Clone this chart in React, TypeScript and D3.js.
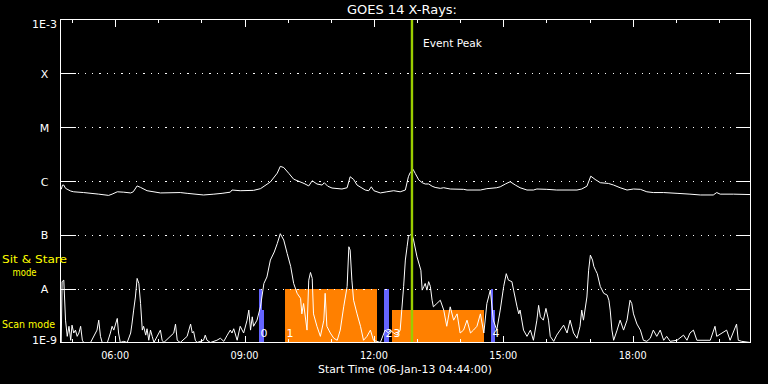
import React from "react";
import * as d3 from "d3";

// ---- data (time in decimal hours of 06-Jan-2013, flux in W/m^2) ----
const startHour = 4 + 44 / 60;
const endHour = startHour + 16;
const eventPeakHour = 12 + 53 / 60;

const yTickValues = [1e-3, 1e-4, 1e-5, 1e-6, 1e-7, 1e-8, 1e-9];
const yTickLabels = ["1E-3", "X", "M", "C", "B", "A", "1E-9"];
const xMajorHours = [6, 9, 12, 15, 18];
const xMajorLabels = ["06:00", "09:00", "12:00", "15:00", "18:00"];
const xMinorHours = [5, 6, 7, 8, 9, 10, 11, 12, 13, 14, 15, 16, 17, 18, 19, 20];

const longChannel: [number, number][] = [
  [4.75, 7.0e-7], [4.78, 8.4e-7], [4.81, 8.4e-7], [4.85, 7.3e-7], [4.97, 6.5e-7], [5.04, 6.3e-7],
  [5.27, 6.1e-7], [5.62, 5.7e-7], [5.85, 5.4e-7], [5.93, 5.7e-7], [6.05, 6.3e-7], [6.2, 6.2e-7],
  [6.36, 6.0e-7], [6.42, 6.3e-7], [6.51, 8.1e-7], [6.59, 7.6e-7], [6.74, 6.6e-7], [7.05, 6.0e-7],
  [7.51, 6.1e-7], [7.67, 5.9e-7], [8.05, 5.5e-7], [8.29, 5.7e-7], [8.48, 5.9e-7], [8.67, 6.2e-7],
  [8.71, 6.8e-7], [8.9, 6.6e-7], [9.21, 6.7e-7], [9.37, 7.2e-7], [9.6, 9.6e-7], [9.76, 1.4e-6],
  [9.83, 1.87e-6], [9.91, 1.78e-6], [10.03, 1.38e-6], [10.14, 1.08e-6], [10.38, 9.0e-7], [10.49, 8.1e-7],
  [10.57, 1.01e-6], [10.68, 8.8e-7], [10.8, 8.4e-7], [10.85, 9.3e-7], [10.93, 8.0e-7], [11.03, 7.4e-7],
  [11.26, 7.1e-7], [11.38, 7.5e-7], [11.45, 1.2e-6], [11.53, 1.07e-6], [11.61, 8.4e-7], [11.8, 6.8e-7],
  [11.88, 6.6e-7], [11.94, 7.8e-7], [12.0, 6.6e-7], [12.15, 6.0e-7], [12.3, 6.3e-7], [12.46, 6.6e-7],
  [12.61, 6.3e-7], [12.73, 6.8e-7], [12.8, 1.2e-6], [12.84, 1.42e-6], [12.91, 1.64e-6], [12.96, 1.38e-6],
  [13.04, 1.05e-6], [13.12, 9.3e-7], [13.19, 8.8e-7], [13.27, 8.8e-7], [13.35, 8.0e-7], [13.42, 7.6e-7],
  [13.54, 7.3e-7], [13.62, 7.5e-7], [13.77, 7.1e-7], [14.08, 7.0e-7], [14.16, 6.8e-7], [14.47, 6.8e-7],
  [14.62, 7.2e-7], [14.85, 7.5e-7], [14.93, 7.8e-7], [15.05, 8.8e-7], [15.16, 9.7e-7], [15.28, 8.4e-7],
  [15.39, 7.5e-7], [15.55, 6.8e-7], [15.7, 6.8e-7], [15.78, 7.1e-7], [16.01, 7.0e-7], [16.24, 6.8e-7],
  [16.71, 6.8e-7], [16.82, 7.1e-7], [16.94, 8.0e-7], [17.03, 1.23e-6], [17.13, 1.07e-6], [17.25, 9.3e-7],
  [17.44, 9.0e-7], [17.56, 8.4e-7], [17.71, 7.5e-7], [17.87, 6.8e-7], [18.02, 7.1e-7], [18.18, 7.0e-7],
  [18.33, 6.3e-7], [18.48, 6.1e-7], [18.72, 6.1e-7], [19.03, 5.9e-7], [19.33, 5.7e-7], [19.57, 5.5e-7],
  [19.87, 5.5e-7], [19.95, 6.1e-7], [20.03, 5.7e-7], [20.34, 5.7e-7], [20.73, 5.6e-7],
];

const shortChannel: [number, number][] = [
  [4.75, 1e-9], [4.77, 1.35e-8], [4.81, 1.44e-8], [4.85, 2.6e-9], [4.89, 1.3e-9], [4.93, 2.0e-9], [4.97, 1.1e-9],
  [5.0, 2.1e-9], [5.04, 1.5e-9], [5.08, 1.7e-9], [5.12, 1.3e-9], [5.16, 1.5e-9], [5.2, 2.0e-9], [5.24, 1.1e-9],
  [5.27, 1e-9], [5.43, 1e-9], [5.58, 1.7e-9], [5.62, 2.6e-9], [5.66, 1.3e-9], [5.7, 1e-9], [5.82, 1e-9],
  [5.89, 1.5e-9], [5.93, 2.0e-9], [5.97, 1.7e-9], [6.01, 2.2e-9], [6.05, 2.8e-9], [6.08, 1.5e-9], [6.12, 1e-9],
  [6.2, 1.05e-9], [6.28, 1e-9], [6.36, 1.5e-9], [6.39, 2.2e-9], [6.43, 4.0e-9], [6.47, 7.0e-9], [6.51, 1.55e-8],
  [6.55, 1.25e-8], [6.59, 5.3e-9], [6.63, 1.7e-9], [6.66, 2.0e-9], [6.71, 1.37e-9], [6.74, 1.8e-9], [6.78, 1.1e-9],
  [6.82, 1.7e-9], [6.86, 1.3e-9], [6.9, 1e-9], [7.05, 1.7e-9], [7.09, 1.1e-9], [7.13, 1e-9], [7.36, 1.5e-9],
  [7.4, 2.2e-9], [7.44, 1.1e-9], [7.51, 1e-9], [7.67, 1.3e-9], [7.71, 1.7e-9], [7.75, 2.2e-9], [7.79, 1.5e-9],
  [7.82, 1.6e-9], [7.86, 1.1e-9], [7.9, 1e-9], [8.05, 1.1e-9], [8.09, 1.37e-9], [8.13, 1.1e-9], [8.21, 1e-9],
  [8.36, 1.1e-9], [8.44, 1.2e-9], [8.52, 1.05e-9], [8.6, 1.37e-9], [8.67, 1.7e-9], [8.71, 1.5e-9], [8.75, 1.8e-9],
  [8.83, 1.1e-9], [8.9, 2.0e-9], [8.98, 1.5e-9], [9.06, 2.6e-9], [9.1, 4.0e-9], [9.14, 1.7e-9], [9.18, 3.0e-9],
  [9.21, 2.0e-9], [9.29, 2.6e-9], [9.37, 4.6e-9], [9.45, 1.25e-8], [9.52, 1.65e-8], [9.6, 3.4e-8], [9.69, 4.8e-8],
  [9.76, 6.9e-8], [9.83, 1.05e-7], [9.91, 8.0e-8], [9.99, 4.5e-8], [10.07, 2.6e-8], [10.14, 1.25e-8], [10.22, 8.2e-9],
  [10.3, 6.6e-9], [10.33, 3.4e-9], [10.37, 5.3e-9], [10.45, 1.7e-9], [10.49, 1.44e-8], [10.53, 2.0e-8], [10.57, 1.55e-8],
  [10.6, 3.4e-9], [10.68, 2.0e-9], [10.76, 1.3e-9], [10.84, 2.6e-9], [10.87, 8.2e-9], [10.91, 2.0e-9], [10.99, 1.5e-9],
  [11.07, 1.2e-9], [11.15, 1.1e-9], [11.22, 1.7e-9], [11.3, 4.6e-9], [11.38, 1.1e-8], [11.42, 6.0e-8], [11.45, 5.2e-8],
  [11.49, 1.44e-8], [11.53, 6.1e-9], [11.61, 3.4e-9], [11.69, 2.0e-9], [11.76, 1.1e-9], [11.84, 1.3e-9], [11.92, 1.7e-9],
  [11.99, 1.1e-9], [12.07, 1.05e-9], [12.15, 1e-9], [12.26, 1.7e-9], [12.34, 1.5e-9], [12.38, 1.7e-9], [12.46, 1.5e-9],
  [12.54, 1.37e-9], [12.61, 1.7e-9], [12.69, 1.1e-8], [12.73, 3.4e-8], [12.77, 6.0e-8], [12.8, 9.2e-8], [12.84, 9.9e-8],
  [12.88, 1.05e-7], [12.92, 8.0e-8], [13.0, 3.9e-8], [13.09, 2.2e-8], [13.12, 9.4e-9], [13.16, 1.1e-8], [13.19, 1.25e-8],
  [13.23, 9.4e-9], [13.27, 1.35e-8], [13.31, 1.1e-8], [13.35, 6.1e-9], [13.38, 4.6e-9], [13.46, 5.3e-9], [13.54, 6.1e-9],
  [13.62, 4.0e-9], [13.69, 2.0e-9], [13.77, 4.6e-9], [13.85, 2.6e-9], [13.93, 3.4e-9], [14.0, 1.5e-9], [14.08, 1.7e-9],
  [14.16, 2.6e-9], [14.24, 1.5e-9], [14.31, 1.7e-9], [14.39, 2.0e-9], [14.47, 3.4e-9], [14.55, 1.5e-9], [14.62, 5.3e-9],
  [14.66, 7.0e-9], [14.7, 9.4e-9], [14.77, 2.6e-9], [14.85, 1.7e-9], [14.93, 4.0e-9], [15.01, 1.1e-8], [15.07, 1.9e-8],
  [15.12, 1.44e-8], [15.2, 1.35e-8], [15.24, 9.4e-9], [15.32, 4.6e-9], [15.36, 3.4e-9], [15.39, 4.0e-9], [15.47, 1.7e-9],
  [15.55, 1.3e-9], [15.63, 1.7e-9], [15.7, 1.1e-9], [15.78, 2.6e-9], [15.82, 4.9e-9], [15.86, 3.0e-9], [15.93, 2.6e-9],
  [15.99, 4.3e-9], [16.05, 2.6e-9], [16.09, 1.3e-9], [16.17, 1.05e-9], [16.24, 1.37e-9], [16.32, 1.7e-9], [16.4, 2.1e-9],
  [16.48, 1.5e-9], [16.55, 2.6e-9], [16.63, 1.5e-9], [16.71, 1.2e-9], [16.78, 2.0e-9], [16.82, 4.0e-9], [16.86, 2.6e-9],
  [16.94, 7.0e-9], [16.98, 2.2e-8], [17.02, 4.2e-8], [17.07, 3.4e-8], [17.1, 2.6e-8], [17.14, 2.2e-8], [17.18, 1.9e-8],
  [17.25, 1.1e-8], [17.33, 8.2e-9], [17.41, 7.6e-9], [17.45, 6.1e-9], [17.48, 4.0e-9], [17.52, 1.7e-9], [17.56, 1.1e-9],
  [17.64, 1.7e-9], [17.71, 2.6e-9], [17.79, 1.7e-9], [17.87, 2.6e-9], [17.94, 6.1e-9], [17.98, 5.3e-9], [18.02, 3.4e-9],
  [18.1, 2.2e-9], [18.18, 1.7e-9], [18.25, 1.1e-9], [18.33, 1.05e-9], [18.41, 1.2e-9], [18.48, 1.7e-9], [18.56, 1.3e-9],
  [18.64, 1.7e-9], [18.72, 1.1e-9], [18.79, 1.3e-9], [18.87, 1.05e-9], [19.03, 1.1e-9], [19.18, 1.37e-9], [19.26, 1.1e-9],
  [19.33, 1.5e-9], [19.41, 1.7e-9], [19.49, 1.1e-9], [19.8, 1.1e-9], [19.91, 2.0e-9], [19.95, 1.3e-9], [20.18, 1.7e-9],
  [20.26, 1.1e-9], [20.41, 2.2e-9], [20.45, 1.1e-9], [20.53, 1.05e-9], [20.73, 1e-9],
];

// observing blocks: id, start/end hour, mode and instrument type
const blockIds = ["0", "0", "1", "2", "3", "4", "4"];
const blockStart = [9.336, 9.336, 9.939, 12.235, 12.42, 14.716, 14.716];
const blockEnd = [9.406, 9.452, 12.072, 12.351, 14.553, 14.763, 14.809];
const blockMode = ["stare", "scan", "stare", "stare", "scan", "stare", "scan"];
const blockType = ["blue", "blue", "orange", "blue", "orange", "blue", "blue"];
const modeTop: Record<string, number> = { stare: 1e-8, scan: 4e-9 };

const W = 768;
const H = 384;
const left = 60.5;
const right = 750.5;
const top = 19.5;
const bottom = 342.5;
const FONT = "'DejaVu Sans', sans-serif";
const typeColor: Record<string, string> = { blue: "#6464ff", orange: "#ff8000" };

export default function App() {
  const x = d3.scaleLinear().domain([startHour, endHour]).range([left, right]);
  const y = d3.scaleLog().domain([1e-9, 1e-3]).range([bottom, top]).clamp(true);
  const line = d3
    .line<[number, number]>()
    .x((d) => x(d[0]))
    .y((d) => y(d[1]));

  const seen = new Set<string>();
  const labels: { id: string; start: number }[] = [];
  blockIds.forEach((id, i) => {
    if (!seen.has(id)) {
      seen.add(id);
      labels.push({ id, start: blockStart[i] });
    }
  });

  return (
    <svg
      width={W}
      height={H}
      style={{ position: "absolute", left: 0, top: 0, display: "block", background: "#000" }}
    >
      <rect x={0} y={0} width={W} height={H} fill="#000" />

      {/* observing blocks */}
      {blockIds.map((id, i) => (
        <rect
          key={"b" + i}
          x={x(blockStart[i])}
          y={y(modeTop[blockMode[i]])}
          width={x(blockEnd[i]) - x(blockStart[i])}
          height={bottom - y(modeTop[blockMode[i]])}
          fill={typeColor[blockType[i]]}
          shapeRendering="crispEdges"
        />
      ))}

      {/* grid: dotted decades with solid ticks at both sides */}
      {yTickValues.slice(1, -1).map((v) => (
        <g key={"g" + v} shapeRendering="crispEdges">
          <line x1={left + 17} x2={right - 17} y1={Math.round(y(v)) + 0.5} y2={Math.round(y(v)) + 0.5}
            stroke="#fff" strokeWidth={1} strokeDasharray="1.2 6.13" />
          <line x1={left} x2={left + 15} y1={Math.round(y(v)) + 0.5} y2={Math.round(y(v)) + 0.5} stroke="#fff" />
          <line x1={right - 15} x2={right} y1={Math.round(y(v)) + 0.5} y2={Math.round(y(v)) + 0.5} stroke="#fff" />
        </g>
      ))}

      {/* curves */}
      <path d={line(shortChannel) || ""} fill="none" stroke="#fff" strokeWidth={1} />
      <path d={line(longChannel) || ""} fill="none" stroke="#fff" strokeWidth={1} />

      {/* block labels */}
      {labels.map((l) => (
        <text key={"l" + l.id} x={x(l.start) + 1.5} y={337} fill="#fff" fontFamily={FONT} fontSize={11}>
          {l.id}
        </text>
      ))}

      {/* event peak */}
      <line x1={x(eventPeakHour)} x2={x(eventPeakHour)} y1={top} y2={bottom} stroke="#9acd00" strokeWidth={2.4} />
      <text x={x(eventPeakHour) + 11} y={47} fill="#fff" fontFamily={FONT} fontSize={11}
        textLength={59} lengthAdjust="spacingAndGlyphs">
        Event Peak
      </text>

      {/* frame */}
      <rect x={left} y={top} width={right - left} height={bottom - top} fill="none" stroke="#fff"
        strokeWidth={1} shapeRendering="crispEdges" />

      {/* x ticks */}
      {xMinorHours.map((h) => {
        const major = xMajorHours.includes(h);
        const len = major ? 7 : 3.5;
        const xx = Math.round(x(h)) + 0.5;
        return (
          <g key={"t" + h} shapeRendering="crispEdges">
            <line x1={xx} x2={xx} y1={top} y2={top + len} stroke="#fff" />
            <line x1={xx} x2={xx} y1={bottom} y2={bottom - len} stroke="#fff" />
          </g>
        );
      })}
      {xMajorHours.map((h, i) => (
        <text key={"xl" + h} x={x(h)} y={358.5} fill="#fff" fontFamily={FONT} fontSize={10}
          textAnchor="middle" textLength={28} lengthAdjust="spacingAndGlyphs">
          {xMajorLabels[i]}
        </text>
      ))}

      {/* y labels */}
      {yTickValues.map((v, i) => (
        <text key={"yl" + v} x={44.5}
          y={Math.min(Math.max(y(v) + 4.5, top + 8), bottom + 1.5)}
          fill="#fff" fontFamily={FONT} fontSize={11} textAnchor="middle">
          {yTickLabels[i]}
        </text>
      ))}

      {/* titles */}
      <text x={402} y={14} fill="#fff" fontFamily={FONT} fontSize={12} textAnchor="middle"
        textLength={110} lengthAdjust="spacingAndGlyphs">
        GOES 14 X-Rays:
      </text>
      <text x={405} y={372.5} fill="#fff" fontFamily={FONT} fontSize={11} textAnchor="middle"
        textLength={174} lengthAdjust="spacingAndGlyphs">
        Start Time (06-Jan-13 04:44:00)
      </text>

      {/* mode legends */}
      <text x={2} y={262.5} fill="#ffff00" fontFamily={FONT} fontSize={10.5}
        textLength={65} lengthAdjust="spacingAndGlyphs">
        Sit &amp; Stare
      </text>
      <text x={24.5} y={275.5} fill="#ffff00" fontFamily={FONT} fontSize={10.5} textAnchor="middle"
        textLength={24} lengthAdjust="spacingAndGlyphs">
        mode
      </text>
      <text x={2} y={328} fill="#ffff00" fontFamily={FONT} fontSize={11}
        textLength={53} lengthAdjust="spacingAndGlyphs">
        Scan mode
      </text>
    </svg>
  );
}
